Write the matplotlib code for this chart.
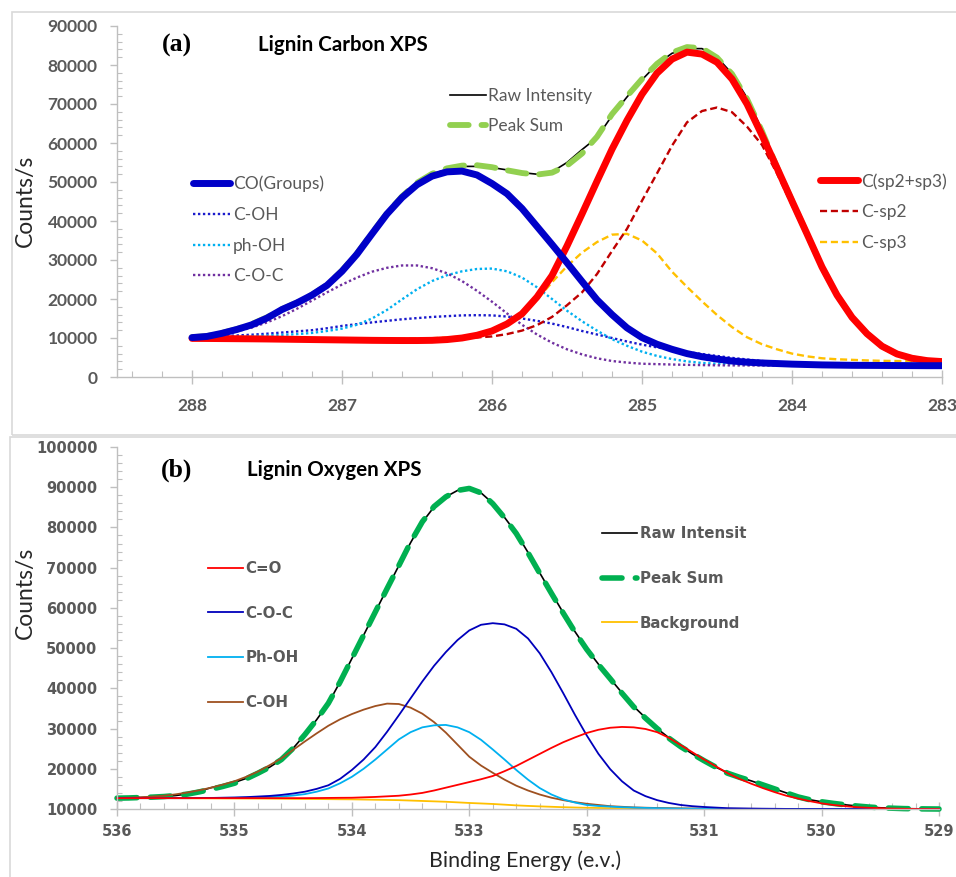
import numpy as np
import matplotlib.pyplot as plt
from matplotlib.patches import Rectangle
from matplotlib.ticker import MultipleLocator

plt.rcParams['font.family'] = ['Lato', 'DejaVu Sans']

#----------- (a) Lignin Carbon XPS, step 0.1 eV -----------
be_c = [288.0, 287.9, 287.8, 287.7, 287.6, 287.5, 287.4, 287.3, 287.2, 287.1,
        287.0, 286.9, 286.8, 286.7, 286.6, 286.5, 286.4, 286.3, 286.2, 286.1,
        286.0, 285.9, 285.8, 285.7, 285.6, 285.5, 285.4, 285.3, 285.2, 285.1,
        285.0, 284.9, 284.8, 284.7, 284.6, 284.5, 284.4, 284.3, 284.2, 284.1,
        284.0, 283.9, 283.8, 283.7, 283.6, 283.5, 283.4, 283.3, 283.2, 283.1,
        283.0]
c_raw = [10200, 10500, 11300, 12300, 13600, 15300, 17400, 19200, 21100, 23600,
         27300, 31700, 36900, 42000, 46300, 49800, 52000, 53300, 54000, 54000,
         53700, 53100, 52400, 52000, 52600, 55000, 58300, 61400, 67000, 71800,
         76200, 80200, 83000, 84200, 84200, 82000, 77800, 71600, 63400, 54300,
         46000, 37600, 29000, 21600, 15700, 11300, 8000, 6000, 4850, 4250,
         3950]
c_peak_sum = [10200, 10500, 11300, 12300, 13600, 15300, 17400, 19100, 21100, 23600,
              27300, 31700, 36900, 42000, 46300, 49800, 52100, 53500, 54200, 54300,
              53800, 53000, 52300, 51900, 52400, 54200, 57300, 61600, 67400, 72000,
              76400, 80300, 83200, 84600, 84300, 81900, 77700, 71300, 63000, 53800,
              45200, 36700, 28200, 21000, 15300, 11100, 7900, 5900, 4800, 4200,
              3950]
c_co_groups = [10100, 10400, 11200, 12200, 13400, 15100, 17300, 19000, 21000, 23500,
               27100, 31500, 36700, 41800, 46000, 49300, 51500, 52600, 52800, 51800,
               49600, 47000, 43200, 38600, 34000, 29300, 24500, 19800, 16000, 12600,
               10100, 8400, 7100, 6000, 5200, 4600, 4100, 3800, 3600, 3450,
               3300, 3200, 3100, 3050, 3000, 2980, 2960, 2940, 2920, 2900,
               2900]
c_oh = [10200, 10350, 10500, 10650, 10850, 11100, 11400, 11700, 12000, 12500,
        13100, 13550, 14000, 14400, 14800, 15100, 15400, 15600, 15800, 15850,
        15800, 15500, 15000, 14400, 13700, 12800, 11800, 10900, 10000, 9100,
        8300, 7600, 7000, 6400, 5900, 5400, 4900, 4500, 4100, 3850,
        3600, 3450, 3300, 3200, 3100, 3050, 3000, 2980, 2950, 2920,
        2900]
ph_oh = [10100, 10200, 10300, 10400, 10500, 10650, 10800, 11000, 11300, 11800,
         12400, 13400, 15000, 17200, 19900, 22500, 24600, 26100, 27100, 27700,
         27800, 27100, 25500, 23000, 20000, 17000, 14300, 11900, 9700, 8000,
         6500, 5400, 4600, 4000, 3600, 3400, 3250, 3150, 3100, 3050,
         3000, 2980, 2960, 2950, 2940, 2930, 2920, 2910, 2900, 2900,
         2900]
c_o_c = [10100, 10400, 10900, 11700, 12700, 14000, 15600, 17500, 19600, 21700,
         23700, 25500, 27000, 28000, 28600, 28600, 27900, 26600, 24600, 22100,
         19300, 16300, 13400, 10900, 8800, 7100, 5800, 4800, 4100, 3700,
         3400, 3300, 3200, 3120, 3050, 3000, 2980, 2960, 2950, 2940,
         2930, 2920, 2910, 2900, 2900, 2900, 2900, 2900, 2900, 2900,
         2900]
c_sp2sp3 = [9900, 9880, 9850, 9820, 9790, 9750, 9700, 9650, 9600, 9550,
            9500, 9450, 9400, 9370, 9350, 9350, 9400, 9600, 10000, 10700,
            11800, 13600, 16200, 20500, 26000, 33600, 41800, 50200, 58400, 65800,
            72500, 77900, 81500, 83300, 82800, 80700, 76400, 70000, 62000, 53600,
            45100, 36700, 28200, 21000, 15300, 11100, 7900, 5900, 4800, 4200,
            3950]
c_sp2 = [9900, 9880, 9860, 9840, 9820, 9800, 9780, 9760, 9740, 9720,
         9700, 9700, 9700, 9700, 9720, 9750, 9820, 9900, 10000, 10150,
         10400, 11000, 11900, 13300, 15400, 18400, 21700, 26400, 32300, 38000,
         45200, 52200, 59300, 65300, 68200, 69100, 67900, 64200, 59500, 52200,
         44000, 35800, 27500, 20400, 14800, 10700, 7600, 5700, 4700, 4150,
         3900]
c_sp3 = [9900, 9890, 9880, 9860, 9850, 9830, 9820, 9810, 9800, 9790,
         9780, 9780, 9780, 9790, 9800, 9850, 9950, 10100, 10400, 10900,
         11700, 13300, 16000, 19800, 24300, 28400, 31900, 34600, 36500, 36700,
         35000, 31700, 27000, 23100, 19400, 15900, 12800, 10200, 8400, 7100,
         6000, 5300, 4800, 4550, 4400, 4250, 4150, 4100, 4050, 4000,
         3950]

#----------- (b) Lignin Oxygen XPS, step 0.1 eV -----------
be_o = [536.0, 535.9, 535.8, 535.7, 535.6, 535.5, 535.4, 535.3, 535.2, 535.1,
        535.0, 534.9, 534.8, 534.7, 534.6, 534.5, 534.4, 534.3, 534.2, 534.1,
        534.0, 533.9, 533.8, 533.7, 533.6, 533.5, 533.4, 533.3, 533.2, 533.1,
        533.0, 532.9, 532.8, 532.7, 532.6, 532.5, 532.4, 532.3, 532.2, 532.1,
        532.0, 531.9, 531.8, 531.7, 531.6, 531.5, 531.4, 531.3, 531.2, 531.1,
        531.0, 530.9, 530.8, 530.7, 530.6, 530.5, 530.4, 530.3, 530.2, 530.1,
        530.0, 529.9, 529.8, 529.7, 529.6, 529.5, 529.4, 529.3, 529.2, 529.1,
        529.0]
o_raw = [12700, 12750, 12850, 12950, 13100, 13350, 13750, 14400, 15300, 15900,
         16600, 17600, 18900, 20400, 22300, 25100, 28500, 32200, 36300, 41600,
         47400, 53200, 59000, 64800, 70500, 76200, 81300, 85100, 87600, 89200,
         89600, 88600, 86000, 82500, 78600, 73800, 68700, 63700, 58800, 54100,
         49800, 46000, 42400, 38900, 35500, 32700, 30000, 27700, 25600, 23700,
         22000, 20400, 19000, 17900, 17000, 16000, 15000, 14000, 13000, 12300,
         11800, 11400, 11050, 10750, 10500, 10300, 10200, 10100, 10050, 10020,
         10000]
o_peak_sum = [12700, 12750, 12850, 12950, 13100, 13350, 13700, 14250, 14900, 15600,
              16400, 17500, 18900, 20400, 22300, 25100, 28500, 32200, 36300, 41600,
              47400, 53200, 59000, 64800, 70500, 76300, 81400, 85200, 87600, 89200,
              89700, 88600, 85900, 82400, 78500, 73700, 68600, 63600, 58700, 54000,
              49700, 45900, 42400, 38800, 35400, 32600, 30000, 27600, 25500, 23700,
              22000, 20400, 18900, 17900, 17000, 16000, 15000, 14000, 13000, 12300,
              11800, 11400, 11050, 10750, 10500, 10300, 10200, 10100, 10050, 10020,
              10000]
o_co = [12700, 12700, 12700, 12700, 12700, 12700, 12700, 12700, 12700, 12700,
        12700, 12700, 12700, 12700, 12700, 12700, 12700, 12720, 12750, 12780,
        12800, 12900, 13000, 13150, 13300, 13600, 14000, 14600, 15300, 16000,
        16700, 17400, 18200, 19400, 20700, 22200, 23700, 25200, 26600, 27800,
        28900, 29700, 30200, 30400, 30300, 29900, 29100, 27700, 25900, 24100,
        22300, 20600, 18900, 17500, 16300, 15200, 14200, 13300, 12600, 11950,
        11400, 11000, 10700, 10450, 10300, 10200, 10100, 10050, 10000, 10000,
        10000]
o_coc = [12700, 12700, 12700, 12700, 12700, 12700, 12700, 12720, 12750, 12800,
         12850, 12950, 13100, 13250, 13500, 13850, 14300, 15000, 15900, 17500,
         19700, 22300, 25400, 29200, 33300, 37500, 41700, 45600, 49000, 52000,
         54400, 55800, 56200, 55900, 54800, 52400, 48700, 44000, 38800, 33400,
         28300, 23700, 19900, 16900, 14600, 13200, 12200, 11500, 11000, 10700,
         10500, 10350, 10200, 10150, 10100, 10070, 10050, 10020, 10000, 10000,
         10000, 10000, 10000, 10000, 10000, 10000, 10000, 10000, 10000, 10000,
         10000]
o_phoh = [12700, 12700, 12700, 12700, 12700, 12700, 12700, 12700, 12750, 12770,
          12800, 12850, 12900, 13000, 13100, 13350, 13700, 14300, 15100, 16400,
          18000, 20000, 22300, 24800, 27300, 29100, 30300, 30800, 30900, 30300,
          29100, 27200, 24800, 22300, 19700, 17300, 15200, 13600, 12400, 11600,
          11000, 10750, 10600, 10450, 10350, 10270, 10200, 10150, 10100, 10070,
          10050, 10000, 10000, 10000, 10000, 10000, 10000, 10000, 10000, 10000,
          10000, 10000, 10000, 10000, 10000, 10000, 10000, 10000, 10000, 10000,
          10000]
o_coh = [12700, 12800, 12900, 13100, 13300, 13650, 14100, 14650, 15300, 16050,
         16900, 18000, 19300, 20900, 22600, 24700, 26800, 28800, 30700, 32300,
         33600, 34700, 35600, 36200, 36100, 35200, 33700, 31600, 29000, 26000,
         23000, 20800, 19000, 17300, 15800, 14600, 13600, 12800, 12200, 11700,
         11300, 11000, 10700, 10550, 10400, 10320, 10250, 10200, 10150, 10120,
         10100, 10070, 10050, 10050, 10050, 10030, 10020, 10010, 10000, 10000,
         10000, 10000, 10000, 10000, 10000, 10000, 10000, 10000, 10000, 10000,
         10000]
o_background = [12700, 12700, 12700, 12700, 12700, 12690, 12680, 12660, 12650, 12630,
                12620, 12610, 12600, 12580, 12550, 12520, 12500, 12480, 12450, 12420,
                12400, 12350, 12300, 12250, 12200, 12100, 12000, 11900, 11800, 11650,
                11500, 11380, 11250, 11080, 10900, 10770, 10650, 10550, 10450, 10370,
                10300, 10250, 10200, 10170, 10150, 10120, 10100, 10090, 10080, 10060,
                10050, 10040, 10030, 10025, 10020, 10015, 10010, 10005, 10000, 10000,
                10000, 10000, 10000, 10000, 10000, 10000, 10000, 10000, 10000, 10000,
                10000]

yticks_c = [0, 10000, 20000, 30000, 40000, 50000, 60000, 70000, 80000, 90000]
yticks_o = [10000, 20000, 30000, 40000, 50000, 60000, 70000, 80000, 90000, 100000]
xticks_c = [288, 287, 286, 285, 284, 283]
xticks_o = [536, 535, 534, 533, 532, 531, 530, 529]

#----------- figure -----------
W, H = 956, 877
fig = plt.figure(figsize=(W / 100, H / 100), dpi=100)

def fx(px):
    return px / W

def fy(py):
    return 1 - py / H

# chart-area frames (excel style)
fig.add_artist(Rectangle((fx(12), fy(435)), 1.0, fy(12) - fy(435), transform=fig.transFigure,
                         fill=False, edgecolor='#D9D9D9', lw=1.2))
fig.add_artist(Rectangle((fx(10), -0.05), 1.0, fy(437) + 0.05, transform=fig.transFigure,
                         fill=False, edgecolor='#D9D9D9', lw=1.2))

ax1 = fig.add_axes([fx(117), fy(377), fx(942) - fx(117), fy(26) - fy(377)])
ax2 = fig.add_axes([fx(117), fy(809), fx(939) - fx(117), fy(447) - fy(809)])

grey = '#BFBFBF'
tick_grey = '#595959'

def style(ax, xt, yt, tick_font, tick_size, xpad):
    for s in ['top', 'right']:
        ax.spines[s].set_visible(False)
    for s in ['left', 'bottom']:
        ax.spines[s].set_color(grey)
        ax.spines[s].set_linewidth(1.0)
    ax.set_xticks(xt, labels=[str(v) for v in xt], fontweight='bold', family=tick_font,
                  fontsize=tick_size, color=tick_grey)
    ax.set_yticks(yt, labels=[str(v) for v in yt], fontweight='bold', family=tick_font,
                  fontsize=tick_size, color=tick_grey)
    ax.xaxis.set_minor_locator(MultipleLocator(0.2))
    ax.yaxis.set_minor_locator(MultipleLocator(2000))
    ax.tick_params(axis='y', which='major', direction='out', length=5, width=1, color=grey, pad=9)
    ax.tick_params(axis='y', which='minor', direction='in', length=3.5, width=0.8, color=grey)
    ax.tick_params(axis='x', which='major', direction='inout', length=10, width=1, color=grey, pad=xpad)
    ax.tick_params(axis='x', which='minor', direction='in', length=4, width=0.8, color=grey)

#----------- (a) -----------
dot = (0, (1, 1.1))
dash = (0, (3, 1.6))
l_coh, = ax1.plot(be_c, c_oh, color='#1A1ACC', lw=1.7, ls=dot, label='C-OH')
l_phoh, = ax1.plot(be_c, ph_oh, color='#00B0F0', lw=1.7, ls=dot, label='ph-OH')
l_coc, = ax1.plot(be_c, c_o_c, color='#7030A0', lw=1.7, ls=dot, label='C-O-C')
l_sp3, = ax1.plot(be_c, c_sp3, color='#FFC000', lw=1.7, ls=dash, label='C-sp3')
l_sp2, = ax1.plot(be_c, c_sp2, color='#C00000', lw=1.7, ls=dash, label='C-sp2')
l_raw, = ax1.plot(be_c, c_raw, color='black', lw=1.2, label='Raw Intensity')
l_sum, = ax1.plot(be_c, c_peak_sum, color='#92D050', lw=4.2, ls=(0, (3.2, 2.2)),
                  dash_capstyle='round', label='Peak Sum')
l_red, = ax1.plot(be_c, c_sp2sp3, color='#FF0000', lw=5, solid_capstyle='round',
                  solid_joinstyle='round', label='C(sp2+sp3)')
l_blue, = ax1.plot(be_c, c_co_groups, color='#0000C8', lw=5, solid_capstyle='round',
                   solid_joinstyle='round', label='CO(Groups)')
ax1.set_xlim(288.5, 283)
ax1.set_ylim(0, 90000)
style(ax1, xticks_c, yticks_c, 'Lato', 12.5, 10)

leg_kw = dict(frameon=False, borderpad=0, borderaxespad=0, handletextpad=0.15,
              prop={'family': 'Lato', 'size': 12.5}, labelcolor='#595959',
              bbox_transform=fig.transFigure, loc='center left')
lg1 = ax1.legend(handles=[l_blue, l_coh, l_phoh, l_coc], handlelength=2.15, labelspacing=0.85,
                 bbox_to_anchor=(fx(193), fy(230)), **leg_kw)
ax1.add_artist(lg1)
lg2 = ax1.legend(handles=[l_raw, l_sum], handlelength=2.05, labelspacing=0.85,
                 bbox_to_anchor=(fx(450), fy(111)), **leg_kw)
ax1.add_artist(lg2)
ax1.legend(handles=[l_red, l_sp2, l_sp3], handlelength=2.2, labelspacing=0.85,
           bbox_to_anchor=(fx(820), fy(212)), **leg_kw)

fig.text(fx(177), fy(45), '(a)', family='Liberation Serif', fontweight='bold', fontsize=18.5,
         ha='center', va='center')
fig.text(fx(258), fy(45), 'Lignin Carbon XPS', fontweight='bold', fontsize=14.8,
         ha='left', va='center', color='black')
fig.text(fx(25), fy(201), 'Counts/s', rotation=90, fontsize=16.5, ha='center', va='center',
         color='#262626')

#----------- (b) -----------
o_kw = dict(lw=1.3, clip_on=False)
m_raw, = ax2.plot(be_o, o_raw, color='black', lw=1.2, clip_on=False, label='Raw Intensit')
m_sum, = ax2.plot(be_o, o_peak_sum, color='#00B050', lw=4.0, ls=(0, (3.6, 2.4)),
                  dash_capstyle='round', clip_on=False, label='Peak Sum')
m_bg, = ax2.plot(be_o, o_background, color='#FFC000', label='Background', **o_kw)
m_coh, = ax2.plot(be_o, o_coh, color='#9E5020', label='C-OH', **o_kw)
m_phoh, = ax2.plot(be_o, o_phoh, color='#00B0F0', label='Ph-OH', **o_kw)
m_coc, = ax2.plot(be_o, o_coc, color='#0000BB', label='C-O-C', **o_kw)
m_co, = ax2.plot(be_o, o_co, color='#FF0000', label='C=O', **o_kw)
ax2.set_xlim(536, 529)
ax2.set_ylim(10000, 100000)
style(ax2, xticks_o, yticks_o, 'DejaVu Sans', 10.5, 6)

leg_kw2 = dict(frameon=False, borderpad=0, borderaxespad=0, handletextpad=0.2,
               prop={'family': 'DejaVu Sans', 'size': 10.8, 'weight': 'bold'}, labelcolor='#595959',
               bbox_transform=fig.transFigure, loc='center left')
lg3 = ax2.legend(handles=[m_co, m_coc, m_phoh, m_coh], handlelength=2.3, labelspacing=1.97,
                 bbox_to_anchor=(fx(208), fy(635.5)), **leg_kw2)
ax2.add_artist(lg3)
ax2.legend(handles=[m_raw, m_sum, m_bg], handlelength=2.3, labelspacing=1.97,
           bbox_to_anchor=(fx(602), fy(578.5)), **leg_kw2)

fig.text(fx(177), fy(470), '(b)', family='Liberation Serif', fontweight='bold', fontsize=18.5,
         ha='center', va='center')
fig.text(fx(247), fy(470), 'Lignin Oxygen XPS', fontweight='bold', fontsize=14.8,
         ha='left', va='center', color='black')
fig.text(fx(25), fy(593), 'Counts/s', rotation=90, fontsize=16.5, ha='center', va='center',
         color='#262626')
fig.text(fx(525), fy(861), 'Binding Energy (e.v.)', fontsize=15.4, ha='center', va='center',
         color='#262626')

fig.savefig('out.png', dpi=100)
